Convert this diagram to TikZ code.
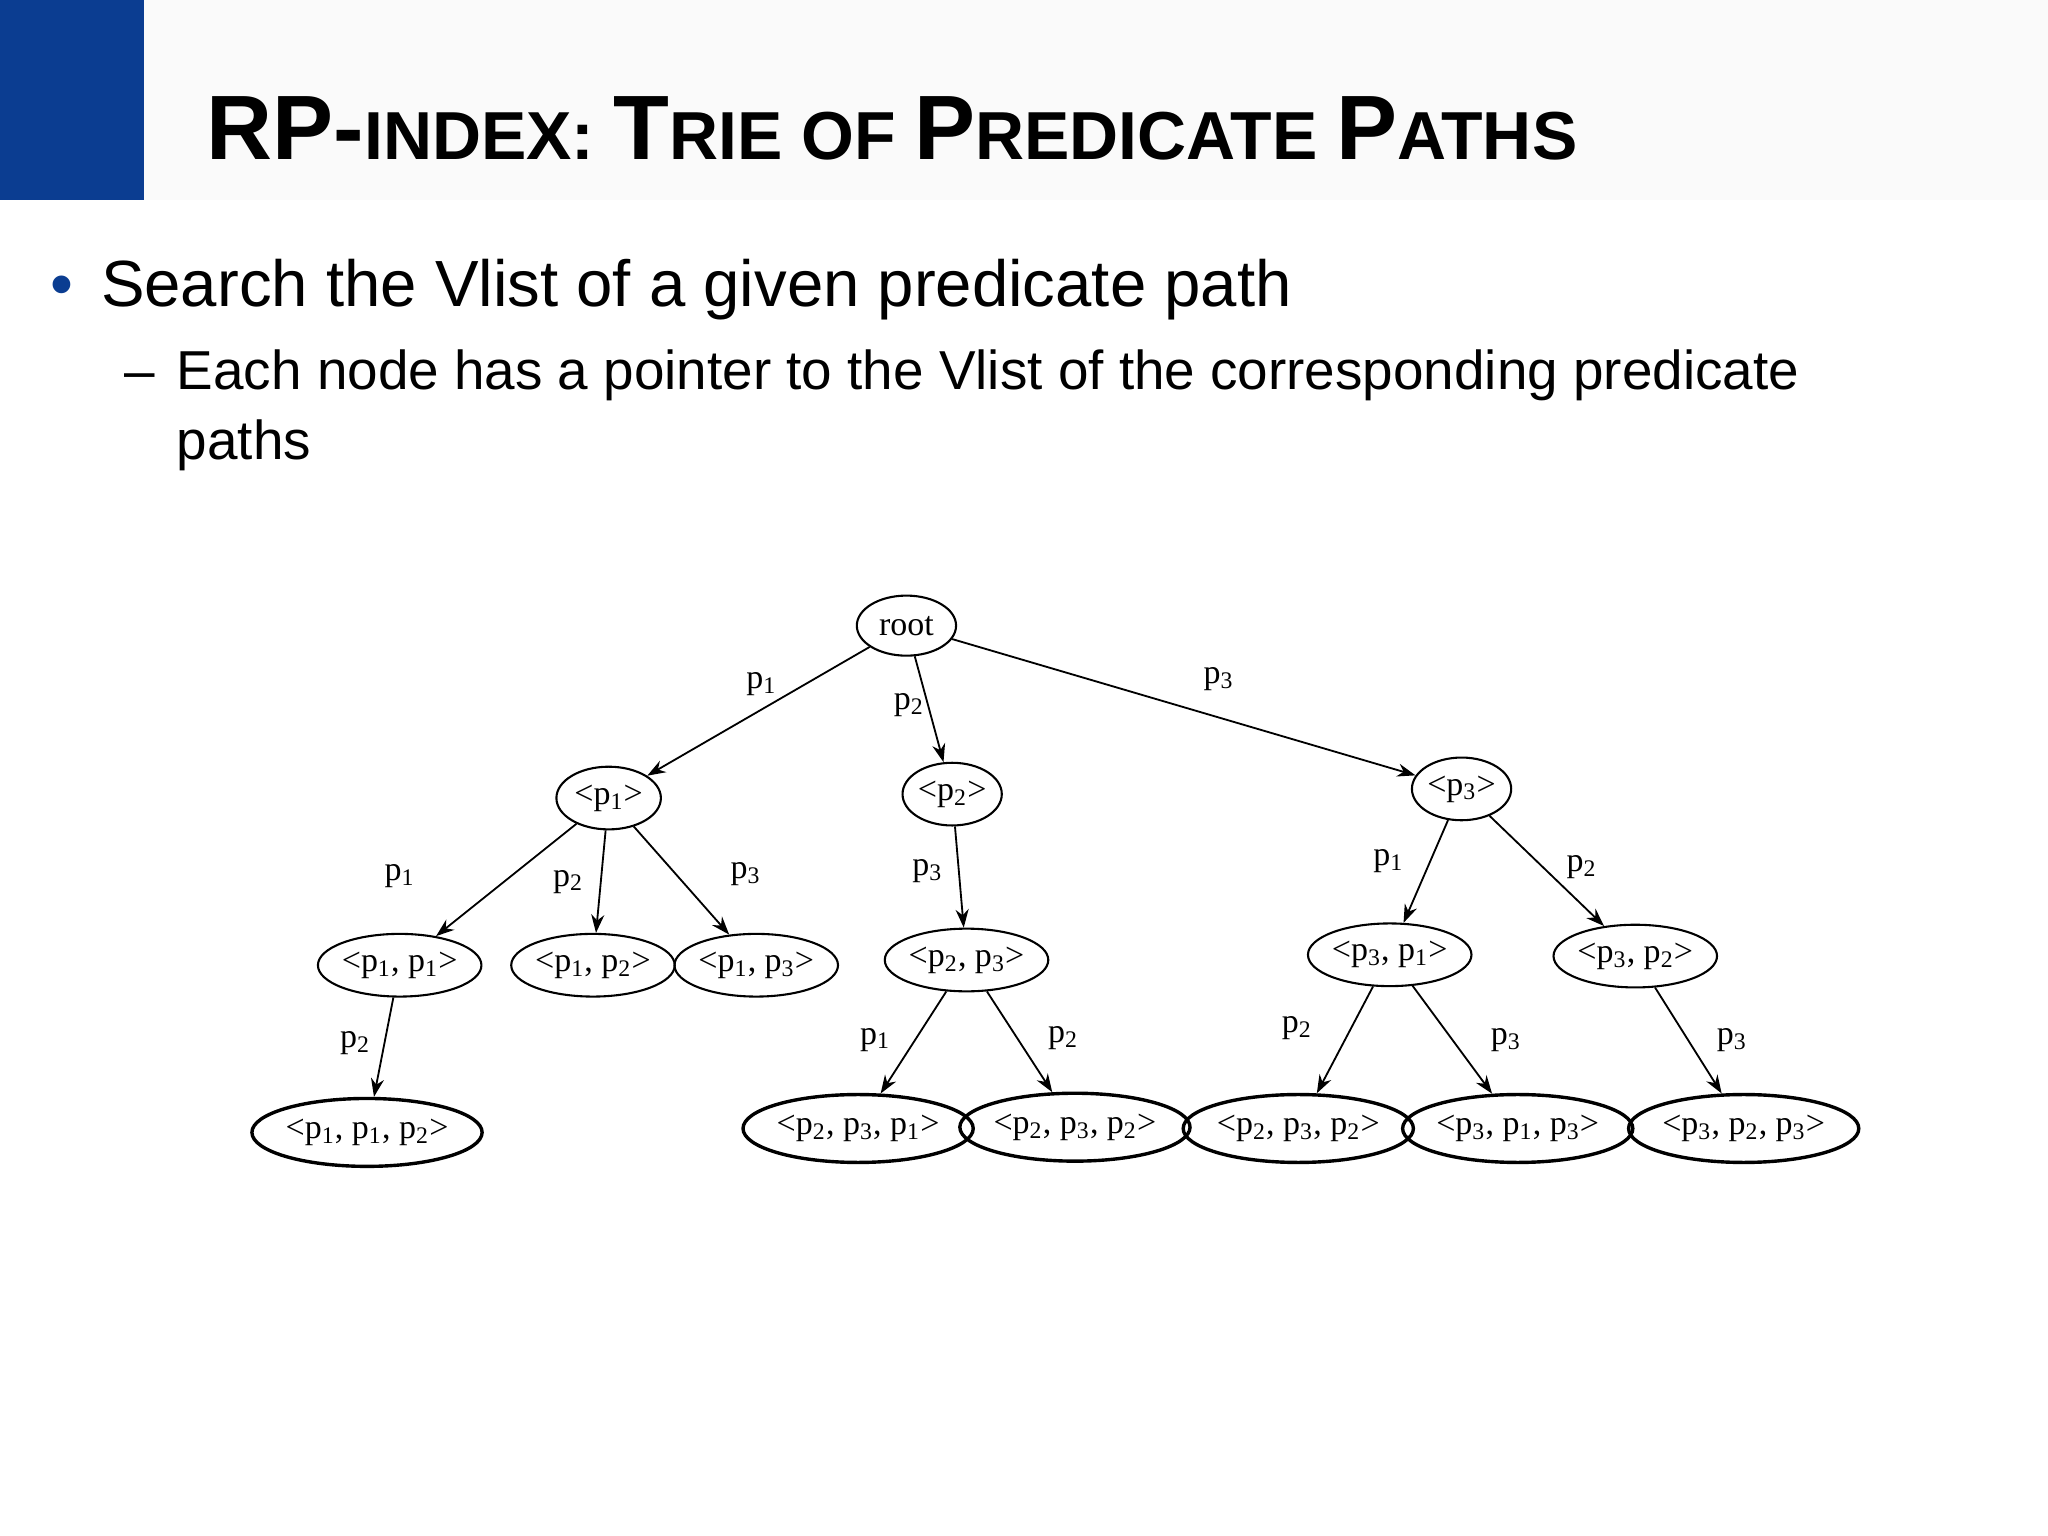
\documentclass[tikz,border=0pt]{standalone}
\usepackage{fontspec}
\setmainfont{Liberation Serif}
\newfontfamily\arialf{Liberation Sans}
\usetikzlibrary{shapes.geometric,arrows.meta}
\definecolor{hdrblue}{HTML}{0B3D91}
\begin{document}
\begin{tikzpicture}[x=0.5pt,y=-0.5pt,
  nd/.style={ellipse,draw,line width=0.8pt,inner sep=0pt,font=\fontsize{13}{13}\selectfont},
  nd2/.style={nd,minimum width=59pt,minimum height=24pt},
  nd3/.style={nd,line width=1.3pt,minimum width=79pt,minimum height=26pt},
  ed/.style={-{Stealth[length=7pt,width=5pt]},line width=0.7pt},
  lb/.style={font=\fontsize{13}{13}\selectfont}]
\useasboundingbox (0,0) rectangle (1568,1176);
\fill[white] (0,0) rectangle (1568,1176);
\fill[black!2] (110,0) rectangle (1568,153);
\fill[hdrblue] (0,0) rectangle (110,153);
\node[anchor=base west,inner sep=0pt,font=\arialf\bfseries] (title) at (158,122)
 {\fontsize{35}{35}\selectfont RP-\fontsize{26}{26}\selectfont INDEX: \fontsize{35}{35}\selectfont T\fontsize{26}{26}\selectfont RIE OF \fontsize{35}{35}\selectfont P\fontsize{26}{26}\selectfont REDICATE \fontsize{35}{35}\selectfont P\fontsize{26}{26}\selectfont ATHS};
\node[anchor=base west,inner sep=0pt,font=\arialf\fontsize{25}{25}\selectfont,text=hdrblue] (b1) at (38,235) {•};
\node[anchor=base west,inner sep=0pt,font=\arialf\fontsize{25}{25}\selectfont] (t1) at (77,235) {Search the Vlist of a given predicate path};
\node[anchor=base west,inner sep=0pt,font=\arialf\fontsize{21}{21}\selectfont] (b2) at (95,298) {–};
\node[anchor=base west,inner sep=0pt,font=\arialf\fontsize{21}{21}\selectfont] (t2) at (135,298) {Each node has a pointer to the Vlist of the corresponding predicate};
\node[anchor=base west,inner sep=0pt,font=\arialf\fontsize{21}{21}\selectfont] (t3) at (135,352) {paths};

\node[nd,minimum width=38pt,minimum height=23pt] (root) at (694,479) {root};
\node[nd,minimum width=40pt,minimum height=24pt] (a) at (466,611) {<p\textsubscript{1}>};
\node[nd,minimum width=38pt,minimum height=24pt] (b) at (729,608) {<p\textsubscript{2}>};
\node[nd,minimum width=38pt,minimum height=24pt] (c) at (1119,604) {<p\textsubscript{3}>};
\node[nd2] (aa) at (306,739) {<p\textsubscript{1}, p\textsubscript{1}>};
\node[nd2,minimum width=58pt] (ab) at (454,739) {<p\textsubscript{1}, p\textsubscript{2}>};
\node[nd2,minimum width=53pt] (ac) at (579,739) {<p\textsubscript{1}, p\textsubscript{3}>};
\node[nd2] (bc) at (740,735) {<p\textsubscript{2}, p\textsubscript{3}>};
\node[nd2,minimum width=55pt] (ca) at (1064,731) {<p\textsubscript{3}, p\textsubscript{1}>};
\node[nd2,minimum width=55pt] (cb) at (1252,732) {<p\textsubscript{3}, p\textsubscript{2}>};
\node[nd3] (aab) at (281,867) {<p\textsubscript{1}, p\textsubscript{1}, p\textsubscript{2}>};
\node[nd3] (bca) at (657,864) {<p\textsubscript{2}, p\textsubscript{3}, p\textsubscript{1}>};
\node[nd3] (bcb) at (823,863) {<p\textsubscript{2}, p\textsubscript{3}, p\textsubscript{2}>};
\node[nd3] (cab) at (994,864) {<p\textsubscript{2}, p\textsubscript{3}, p\textsubscript{2}>};
\node[nd3] (cac) at (1162,864) {<p\textsubscript{3}, p\textsubscript{1}, p\textsubscript{3}>};
\node[nd3] (cbc) at (1335,864) {<p\textsubscript{3}, p\textsubscript{2}, p\textsubscript{3}>};

\draw[ed] (root) -- (a); \draw[ed] (root) -- (b); \draw[ed] (root) -- (c);
\draw[ed] (a) -- (aa); \draw[ed] (a) -- (ab); \draw[ed] (a) -- (ac);
\draw[ed] (b) -- (bc);
\draw[ed] (c) -- (ca); \draw[ed] (c) -- (cb);
\draw[ed] (aa) -- (aab);
\draw[ed] (bc) -- (bca); \draw[ed] (bc) -- (bcb);
\draw[ed] (ca) -- (cab); \draw[ed] (ca) -- (cac);
\draw[ed] (cb) -- (cbc);

\node[lb] (l1) at (583,524) {p\textsubscript{1}};
\node[lb] (l2) at (696,540) {p\textsubscript{2}};
\node[lb] (l3) at (933,520) {p\textsubscript{3}};
\node[lb] (l4) at (306,671) {p\textsubscript{1}};
\node[lb] (l5) at (435,675) {p\textsubscript{2}};
\node[lb] (l6) at (571,669) {p\textsubscript{3}};
\node[lb] (l7) at (710,667) {p\textsubscript{3}};
\node[lb] (l8) at (1063,659) {p\textsubscript{1}};
\node[lb] (l9) at (1211,664) {p\textsubscript{2}};
\node[lb] (l10) at (272,799) {p\textsubscript{2}};
\node[lb] (l11) at (670,796) {p\textsubscript{1}};
\node[lb] (l12) at (814,795) {p\textsubscript{2}};
\node[lb] (l13) at (993,787) {p\textsubscript{2}};
\node[lb] (l14) at (1153,796) {p\textsubscript{3}};
\node[lb] (l15) at (1326,796) {p\textsubscript{3}};
\end{tikzpicture}
\end{document}
